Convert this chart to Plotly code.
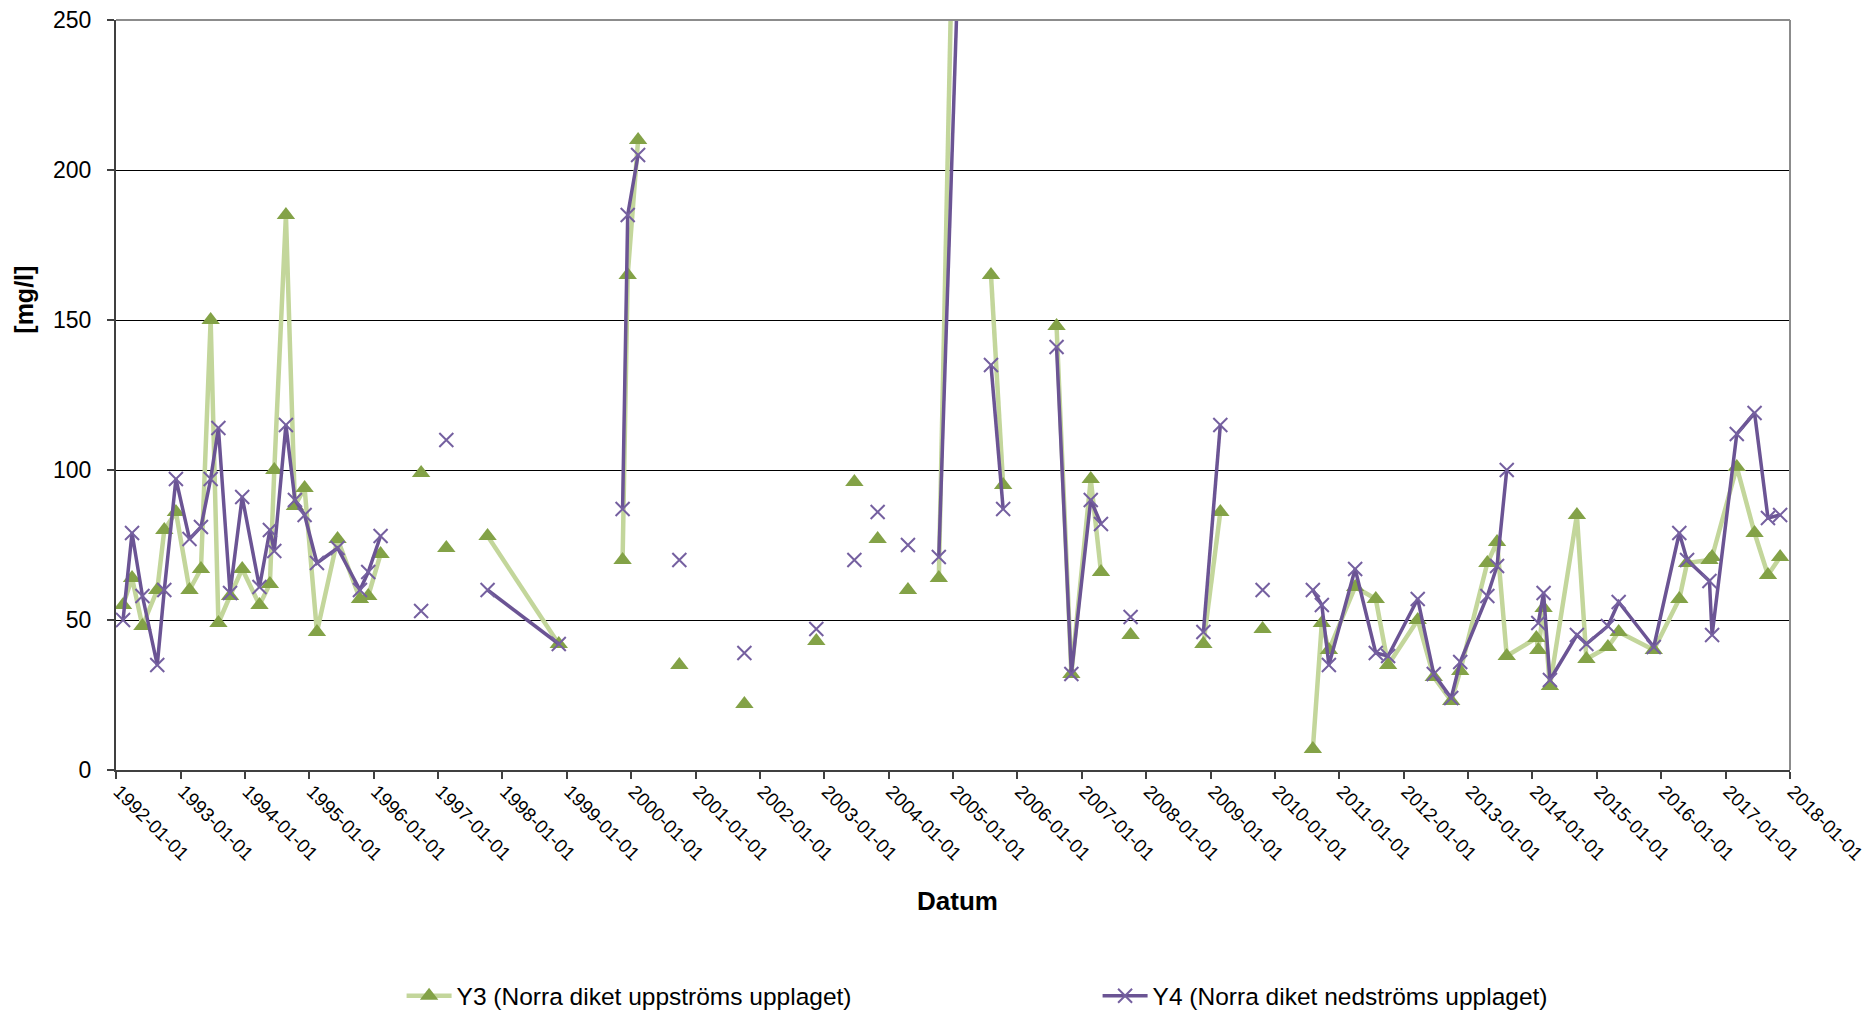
import plotly.graph_objects as go

# ---- data ----
dates = [
    "1992-02-10", "1992-04-01", "1992-05-30", "1992-08-22", "1992-10-01", "1992-12-06",
    "1993-02-21", "1993-04-27", "1993-06-21", "1993-08-04", "1993-10-09", "1993-12-17",
    "1994-03-25", "1994-05-23", "1994-06-17", "1994-08-22", "1994-10-12", "1994-12-06",
    "1995-02-14", "1995-06-11", "1995-10-16", "1995-12-02", "1996-02-10",
    "1996-05-01", "1996-09-27", "1996-11-15", "1997-02-17", "1997-05-01",
    "1997-10-09", "1998-11-17", "1999-05-01",
    "1999-11-14", "1999-12-13", "2000-02-10", "2000-05-01",
    "2000-10-01", "2001-04-01", "2001-10-05", "2002-05-01", "2002-11-17", "2003-03-01",
    "2003-06-21", "2003-08-15", "2003-10-31", "2004-01-15", "2004-04-20", "2004-07-01",
    "2004-10-12", "2005-02-06", "2005-04-01",
    "2005-08-04", "2005-10-12", "2006-03-01",
    "2006-08-11", "2006-11-03", "2007-02-21", "2007-04-20", "2007-06-01",
    "2007-10-05", "2008-04-01", "2008-11-21", "2009-02-25", "2009-06-01",
    "2009-10-23", "2010-03-01",
    "2010-08-04", "2010-09-24", "2010-11-03", "2011-04-01", "2011-07-27", "2011-10-05",
    "2012-03-21", "2012-06-20", "2012-09-27", "2012-11-17", "2013-04-20", "2013-06-14",
    "2013-08-08", "2014-01-23", "2014-02-03", "2014-03-05", "2014-04-10", "2014-09-10",
    "2014-11-03", "2015-03-05", "2015-05-05", "2015-11-20", "2016-04-13", "2016-05-27",
    "2016-10-01", "2016-10-16", "2017-03-05", "2017-06-14", "2017-08-29", "2017-11-06",
]

y3 = [
    55, 64, 48, 60, 80, 86,
    60, 67, 150, 49, 58, 67,
    55, 62, 100, 185, 88, 94,
    46, 77, 57, 58, 72,
    None, 99, None, 74, None,
    78, 42, None,
    70, 165, 210, None,
    35, None, 22, None, 43, None,
    96, None, 77, None, 60, None,
    64, 390, None,
    165, 95, None,
    148, 32, 97, 66, None,
    45, None, 42, 86, None,
    47, None,
    7, 49, 40, 61, 57, 35,
    50, 31, 23, 33, 69, 76,
    38, 44, 40, 54, 28, 85,
    37, 41, 46, 40, 57, 69,
    70, 71, 101, 79, 65, 71,
]

y4 = [
    50, 79, 58, 35, 60, 97,
    77, 81, 97, 114, 59, 91,
    61, 80, 73, 115, 90, 85,
    69, 74, 60, 66, 78,
    None, 53, None, 110, None,
    60, 42, None,
    87, 185, 205, None,
    70, None, 39, None, 47, None,
    70, None, 86, None, 75, None,
    71, 280, None,
    135, 87, None,
    141, 32, 90, 82, None,
    51, None, 46, 115, None,
    60, None,
    60, 55, 35, 67, 39, 38,
    57, 32, 24, 36, 58, 68,
    100, None, 49, 59, 30, 45,
    42, 48, 56, 41, 79, 70,
    63, 45, 112, 119, 84, 85,
]

series_names = ["Y3 (Norra diket uppströms upplaget)", "Y4 (Norra diket nedströms upplaget)"]
y_ticks = [0, 50, 100, 150, 200, 250]

FONT = "Liberation Sans, Arial, sans-serif"

fig = go.Figure()
fig.add_trace(go.Scatter(
    x=dates, y=y3, name=series_names[0], mode="lines+markers",
    connectgaps=False,
    line=dict(color="#C3D69B", width=4.5),
    marker=dict(symbol="triangle-up", size=16, color="#83A247", line=dict(width=0)),
))
fig.add_trace(go.Scatter(
    x=dates, y=y4, name=series_names[1], mode="lines+markers",
    connectgaps=False,
    line=dict(color="#6B5494", width=3.5),
    marker=dict(symbol="x-thin", size=14, color="#7560A0",
                line=dict(width=2, color="#7560A0")),
))

# page body has an 8px margin: figure is sized/margined so the plot lands where the reference has it
fig.update_layout(
    width=1863, height=1006,
    margin=dict(l=108, r=81, t=12, b=244, autoexpand=False),
    paper_bgcolor="white", plot_bgcolor="white",
    font=dict(family=FONT, size=21, color="black"),
    showlegend=True,
    legend=dict(orientation="h", x=0.1706, y=-0.301, xanchor="left", yanchor="middle",
                font=dict(family=FONT, size=24.5, color="black"),
                itemwidth=45, entrywidth=636, entrywidthmode="pixels",
                bgcolor="rgba(0,0,0,0)"),
    xaxis=dict(
        type="date",
        range=["1992-01-01", "2018-01-01"],
        tick0="1992-01-01", dtick="M12", tickformat="%Y-%m-%d",
        tickangle=45, automargin=False, ticklabeloverflow="allow",
        ticklabelstandoff=-6, ticklabelshift=3,
        ticks="outside", ticklen=7, tickcolor="#404040", tickwidth=1.5,
        showline=True, linecolor="#404040", linewidth=2,
        showgrid=False, zeroline=False,
        tickfont=dict(family=FONT, size=19, color="black"),
    ),
    yaxis=dict(
        range=[0, 250], tickvals=y_ticks, automargin=False, ticklabeloverflow="allow",
        ticks="outside", ticklen=7, tickcolor="#404040", tickwidth=1.5,
        showline=True, linecolor="#404040", linewidth=2,
        showgrid=True, gridcolor="black", gridwidth=1,
        zeroline=False,
        tickfont=dict(family=FONT, size=23, color="black"),
        ticklabelstandoff=11,
    ),
    shapes=[
        dict(type="line", xref="paper", yref="paper", x0=0, x1=1, y0=1, y1=1,
             line=dict(color="#8C8C8C", width=2)),
        dict(type="line", xref="paper", yref="paper", x0=1, x1=1, y0=0, y1=1,
             line=dict(color="#8C8C8C", width=2)),
    ],
    annotations=[
        dict(text="<b>[mg/l]</b>", xref="paper", yref="paper", x=-0.055, y=0.627,
             textangle=-90, showarrow=False, xanchor="center", yanchor="middle",
             font=dict(family=FONT, size=25, color="black")),
        dict(text="<b>Datum</b>", xref="paper", yref="paper", x=0.5024, y=-0.1747,
             showarrow=False, xanchor="center", yanchor="middle",
             font=dict(family=FONT, size=26, color="black")),
    ],
)

fig.write_html("out.html")
